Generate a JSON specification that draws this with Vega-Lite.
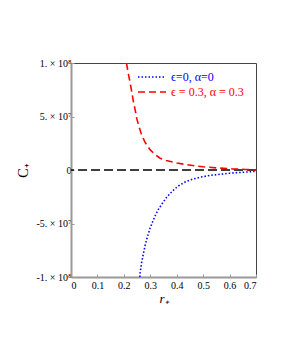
{
  "$schema": "https://vega.github.io/schema/vega-lite/v6.json",
  "width": 185,
  "height": 214,
  "autosize": {"type": "none"},
  "padding": {"left": 71, "top": 63, "right": 25, "bottom": 86},
  "background": "white",
  "config": {
    "view": {"stroke": "#444", "strokeWidth": 1},
    "font": "Liberation Serif"
  },
  "datasets": {
    "zero": [{"C": 0}],
    "curves": [
      {"r": 0.2605, "C": -1.0e8, "series": "ϵ=0, α=0"},
      {"r": 0.261, "C": -0.97e8, "series": "ϵ=0, α=0"},
      {"r": 0.267, "C": -0.87e8, "series": "ϵ=0, α=0"},
      {"r": 0.274, "C": -0.78e8, "series": "ϵ=0, α=0"},
      {"r": 0.280, "C": -0.71e8, "series": "ϵ=0, α=0"},
      {"r": 0.286, "C": -0.65e8, "series": "ϵ=0, α=0"},
      {"r": 0.293, "C": -0.595e8, "series": "ϵ=0, α=0"},
      {"r": 0.299, "C": -0.545e8, "series": "ϵ=0, α=0"},
      {"r": 0.311, "C": -0.47e8, "series": "ϵ=0, α=0"},
      {"r": 0.320, "C": -0.42e8, "series": "ϵ=0, α=0"},
      {"r": 0.330, "C": -0.37e8, "series": "ϵ=0, α=0"},
      {"r": 0.349, "C": -0.30e8, "series": "ϵ=0, α=0"},
      {"r": 0.362, "C": -0.255e8, "series": "ϵ=0, α=0"},
      {"r": 0.375, "C": -0.22e8, "series": "ϵ=0, α=0"},
      {"r": 0.393, "C": -0.175e8, "series": "ϵ=0, α=0"},
      {"r": 0.412, "C": -0.14e8, "series": "ϵ=0, α=0"},
      {"r": 0.430, "C": -0.115e8, "series": "ϵ=0, α=0"},
      {"r": 0.450, "C": -0.093e8, "series": "ϵ=0, α=0"},
      {"r": 0.470, "C": -0.08e8, "series": "ϵ=0, α=0"},
      {"r": 0.488, "C": -0.068e8, "series": "ϵ=0, α=0"},
      {"r": 0.526, "C": -0.05e8, "series": "ϵ=0, α=0"},
      {"r": 0.564, "C": -0.04e8, "series": "ϵ=0, α=0"},
      {"r": 0.600, "C": -0.03e8, "series": "ϵ=0, α=0"},
      {"r": 0.640, "C": -0.023e8, "series": "ϵ=0, α=0"},
      {"r": 0.670, "C": -0.018e8, "series": "ϵ=0, α=0"},
      {"r": 0.700, "C": -0.012e8, "series": "ϵ=0, α=0"},
      {"r": 0.210, "C": 1.0e8, "series": "ϵ = 0.3, α = 0.3"},
      {"r": 0.216, "C": 0.91e8, "series": "ϵ = 0.3, α = 0.3"},
      {"r": 0.223, "C": 0.825e8, "series": "ϵ = 0.3, α = 0.3"},
      {"r": 0.230, "C": 0.73e8, "series": "ϵ = 0.3, α = 0.3"},
      {"r": 0.236, "C": 0.64e8, "series": "ϵ = 0.3, α = 0.3"},
      {"r": 0.243, "C": 0.56e8, "series": "ϵ = 0.3, α = 0.3"},
      {"r": 0.249, "C": 0.48e8, "series": "ϵ = 0.3, α = 0.3"},
      {"r": 0.258, "C": 0.40e8, "series": "ϵ = 0.3, α = 0.3"},
      {"r": 0.267, "C": 0.33e8, "series": "ϵ = 0.3, α = 0.3"},
      {"r": 0.280, "C": 0.26e8, "series": "ϵ = 0.3, α = 0.3"},
      {"r": 0.299, "C": 0.19e8, "series": "ϵ = 0.3, α = 0.3"},
      {"r": 0.318, "C": 0.145e8, "series": "ϵ = 0.3, α = 0.3"},
      {"r": 0.337, "C": 0.11e8, "series": "ϵ = 0.3, α = 0.3"},
      {"r": 0.360, "C": 0.088e8, "series": "ϵ = 0.3, α = 0.3"},
      {"r": 0.400, "C": 0.066e8, "series": "ϵ = 0.3, α = 0.3"},
      {"r": 0.437, "C": 0.05e8, "series": "ϵ = 0.3, α = 0.3"},
      {"r": 0.470, "C": 0.038e8, "series": "ϵ = 0.3, α = 0.3"},
      {"r": 0.500, "C": 0.03e8, "series": "ϵ = 0.3, α = 0.3"},
      {"r": 0.550, "C": 0.02e8, "series": "ϵ = 0.3, α = 0.3"},
      {"r": 0.613, "C": 0.01e8, "series": "ϵ = 0.3, α = 0.3"},
      {"r": 0.660, "C": 0.005e8, "series": "ϵ = 0.3, α = 0.3"},
      {"r": 0.700, "C": 0.0, "series": "ϵ = 0.3, α = 0.3"}
    ]
  },
  "layer": [
    {
      "data": {"name": "zero"},
      "mark": {"type": "rule", "color": "black", "strokeWidth": 1.5, "strokeDash": [9, 4]},
      "encoding": {"y": {"field": "C", "type": "quantitative"}}
    },
    {
      "data": {"name": "curves"},
      "mark": {"type": "line", "strokeWidth": 1.6, "clip": true},
      "encoding": {
        "x": {
          "field": "r", "type": "quantitative",
          "scale": {"domain": [0, 0.7], "nice": false},
          "axis": {
            "title": "r₊", "titleFont": "Liberation Serif", "titleFontStyle": "italic", "titleFontWeight": "normal",
            "titleFontSize": 13, "titlePadding": 2,
            "values": [0, 0.1, 0.2, 0.3, 0.4, 0.5, 0.6, 0.7],
            "labelExpr": "datum.value == 0 ? '0' : format(datum.value, '.1f')",
            "labelFont": "Liberation Serif", "labelFontSize": 10, "labelColor": "black",
            "labelPadding": 6,
            "domainColor": "#999", "domainWidth": 2,
            "tickColor": "#999", "tickSize": -3, "grid": false
          }
        },
        "y": {
          "field": "C", "type": "quantitative",
          "scale": {"domain": [-1e8, 1e8], "nice": false},
          "axis": {
            "title": "C₊", "titleFont": "Liberation Serif", "titleFontWeight": "normal",
            "titleFontSize": 14, "titleColor": "black", "titlePadding": 6,
            "values": [-1e8, -5e7, 0, 5e7, 1e8],
            "labelExpr": "datum.value == 1e8 ? '1. × 10⁸' : datum.value == 5e7 ? '5. × 10⁷' : datum.value == 0 ? '0' : datum.value == -5e7 ? '-5. × 10⁷' : '-1. × 10⁸'",
            "labelFont": "Liberation Serif", "labelFontSize": 10, "labelColor": "black",
            "labelPadding": 3,
            "domainColor": "#999", "domainWidth": 2,
            "tickColor": "#999", "tickSize": -3, "grid": false
          }
        },
        "color": {
          "field": "series", "type": "nominal",
          "scale": {"domain": ["ϵ=0, α=0", "ϵ = 0.3, α = 0.3"], "range": ["blue", "red"]},
          "legend": {
            "title": null, "orient": "none", "legendX": 72, "legendY": 5,
            "symbolType": "M-1.75,0H1.75", "symbolSize": 256, "symbolStrokeWidth": 1.5,
            "labelFont": "Liberation Serif", "labelFontSize": 12, "rowPadding": 0,
            "labelOffset": 10,
            "encode": {"labels": {"update": {"fill": {"signal": "datum.value === 'ϵ=0, α=0' ? 'blue' : 'red'"}}}}
          }
        },
        "strokeDash": {
          "field": "series", "type": "nominal",
          "scale": {"domain": ["ϵ=0, α=0", "ϵ = 0.3, α = 0.3"], "range": [[1.5, 2], [7, 4]]},
          "legend": {
            "title": null, "orient": "none", "legendX": 72, "legendY": 5,
            "symbolType": "M-1.75,0H1.75", "symbolSize": 256, "symbolStrokeWidth": 1.5,
            "labelFont": "Liberation Serif", "labelFontSize": 12, "rowPadding": 0,
            "labelOffset": 10,
            "encode": {"labels": {"update": {"fill": {"signal": "datum.value === 'ϵ=0, α=0' ? 'blue' : 'red'"}}}}
          }
        }
      }
    }
  ]
}
